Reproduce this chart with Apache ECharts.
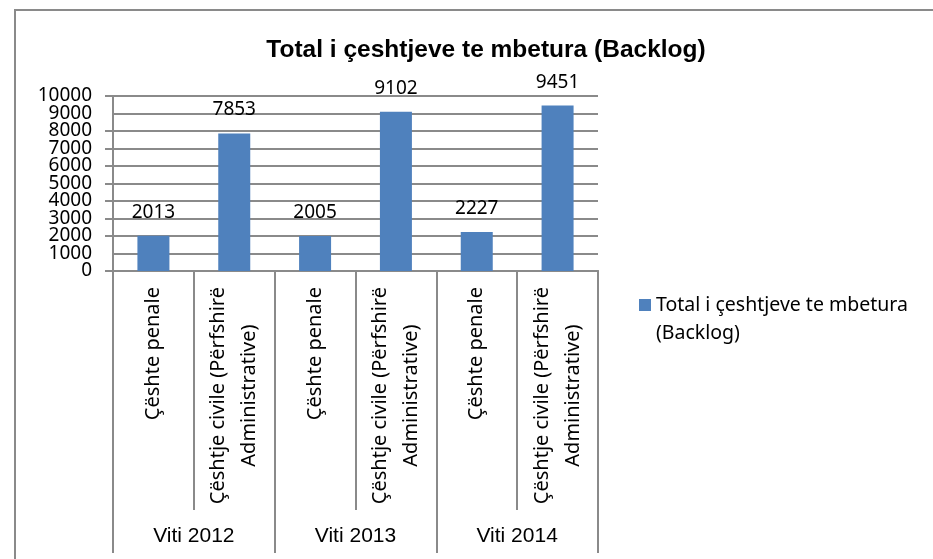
<!DOCTYPE html>
<html>
<head>
<meta charset="utf-8">
<script src="https://cdn.jsdelivr.net/npm/echarts@6/dist/echarts.min.js"></script>
<style>
html,body{margin:0;padding:0;background:#fff;}
#chart{width:933px;height:559px;}
</style>
</head>
<body>
<div id="chart"></div>
<script>
const titleText = 'Total i çeshtjeve te mbetura (Backlog)';
const seriesName = 'Total i çeshtjeve te mbetura\n(Backlog)';
const categories = ['Çështe penale', 'Çështje civile (Përfshirë\nAdministrative)', 'Çështe penale', 'Çështje civile (Përfshirë\nAdministrative)', 'Çështe penale', 'Çështje civile (Përfshirë\nAdministrative)'];
const groups = ['Viti 2012', 'Viti 2013', 'Viti 2014'];
const values = [2013, 7853, 2005, 9102, 2227, 9451];
const yTicks = {min: 0, max: 10000, interval: 1000};

const chart = echarts.init(document.getElementById('chart'));
const gray = '#8a8a8a';
const legendLH = 28;
const yLabelStyle = {margin: 21, color: '#000', fontFamily: 'Noto Sans', fontSize: 19};
chart.setOption({
  backgroundColor: '#fff',
  animation: false,
  graphic: [{
    type: 'rect', shape: {x: 15, y: 10, width: 1000, height: 1000},
    style: {fill: 'none', stroke: gray, lineWidth: 2}, silent: true
  }],
  title: {
    text: titleText, left: 481, textAlign: 'center', top: 33,
    textStyle: {fontFamily: 'Liberation Sans', fontWeight: 'bold', fontSize: 24.5, color: '#000'}
  },
  legend: {
    left: 639, top: 309 - legendLH * 1.5, padding: 0,
    icon: 'rect', itemWidth: 12, itemHeight: 12, itemGap: 4,
    formatter: function (name) {
      return '{p| }\n' + name.split('\n').map(function (s) { return '{t|' + s + '}'; }).join('\n');
    },
    textStyle: {
      fontFamily: 'Noto Sans', fontSize: 19.5, color: '#000',
      rich: {
        p: {fontFamily: 'Noto Sans', fontSize: 19.5, lineHeight: legendLH},
        t: {fontFamily: 'Noto Sans', fontSize: 19.5, lineHeight: legendLH, color: '#000'}
      }
    },
    data: [seriesName]
  },
  grid: {left: 113, right: 335, top: 96, bottom: 288, containLabel: false},
  xAxis: [{
    type: 'category', data: categories, position: 'bottom',
    axisLine: {show: true, lineStyle: {color: gray, width: 2}},
    axisTick: {show: true, length: 239, interval: 0, lineStyle: {color: gray, width: 2}},
    axisLabel: {
      interval: 0, rotate: 90, margin: 16, color: '#000',
      fontFamily: 'Noto Sans', fontSize: 20, lineHeight: 31,
      formatter: function (v) {
        return v.split('\n').map(function (s) { return '{c|' + s + '}'; }).join('\n');
      },
      rich: {c: {align: 'center', fontFamily: 'Noto Sans', fontSize: 20, lineHeight: 31, color: '#000'}}
    }
  }, {
    type: 'category', data: groups, position: 'bottom', offset: 0,
    axisLine: {show: true, lineStyle: {color: gray, width: 2}},
    axisTick: {show: true, length: 282, interval: 0, lineStyle: {color: gray, width: 2}},
    axisLabel: {interval: 0, margin: 255, color: '#000', fontFamily: 'Liberation Sans', fontSize: 21}
  }],
  yAxis: [{
    type: 'value', min: yTicks.min, max: yTicks.max, interval: yTicks.interval, position: 'left',
    axisLine: {show: true, lineStyle: {color: gray, width: 2}},
    axisTick: {show: true, length: 8, lineStyle: {color: gray, width: 2}},
    splitLine: {show: true, lineStyle: {color: gray, width: 2}},
    axisLabel: Object.assign({showMinLabel: true, showMaxLabel: true, interval: 0,
      formatter: function (v) { return String(v); }}, yLabelStyle)
  }, {
    type: 'value', min: yTicks.min, max: yTicks.max, interval: yTicks.interval, position: 'left', offset: 0,
    axisLine: {show: false}, axisTick: {show: false}, splitLine: {show: false},
    axisLabel: Object.assign({showMinLabel: false, showMaxLabel: false, interval: 0,
      formatter: function (v) { return (v === yTicks.min + yTicks.interval || v === yTicks.max - yTicks.interval) ? String(v) : ''; }}, yLabelStyle)
  }],
  series: [{
    name: seriesName, type: 'bar', data: values, barWidth: 32,
    xAxisIndex: 0, yAxisIndex: 0,
    itemStyle: {color: '#4f81bd'},
    label: {show: true, position: 'top', distance: 14, color: '#000', fontFamily: 'Noto Sans', fontSize: 19}
  }]
});
</script>
</body>
</html>
